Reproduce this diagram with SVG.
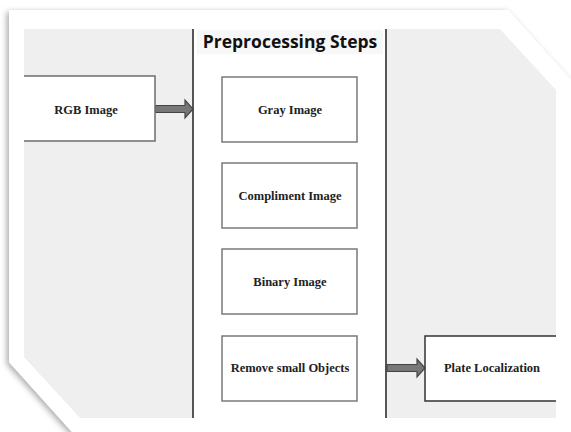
<svg xmlns="http://www.w3.org/2000/svg" width="571" height="432" viewBox="0 0 571 432">
<defs>
<filter id="sh" x="-10%" y="-10%" width="120%" height="120%">
<feDropShadow dx="-2" dy="2" stdDeviation="3" flood-color="#000" flood-opacity="0.35"/>
</filter>
<style>
.box{fill:#fff;stroke:#7a7a7a;stroke-width:1.5}
.lbl{font-family:"Liberation Serif","Times New Roman",serif;font-weight:bold;font-size:12.5px;fill:#222;text-anchor:middle}
.title{font-family:"Open Sans","Noto Sans",sans-serif;font-weight:bold;font-size:17.5px;fill:#111;text-anchor:middle}
.lane{stroke:#555;stroke-width:2}
.arr{fill:#777;stroke:#444;stroke-width:1.2}
</style>
</defs>
<rect width="571" height="432" fill="#fff"/>
<path d="M9,10 L508,10 L571,80 L571,432 L72,432 L9,362 Z" fill="#fff" filter="url(#sh)"/>
<path d="M24,29 L500,29 L556,90 L556,418 L80,418 L24,357 Z" fill="#efefef"/>
<rect x="194" y="29" width="192" height="389" fill="#fff"/>
<rect x="197" y="30" width="186" height="24" fill="#f7f7f7"/>
<text class="title" x="290" y="48">Preprocessing Steps</text>
<g id="connectors">
<line class="lane" x1="193" y1="29" x2="193" y2="418"/>
<line class="lane" x1="386" y1="29" x2="386" y2="418"/>
<path class="arr" d="M155,105.5 L185,105.5 L185,100 L193,109 L185,118 L185,112.5 L155,112.5 Z"/>
<path class="arr" d="M387,364.5 L417,364.5 L417,359 L425,368 L417,377 L417,371.5 L387,371.5 Z"/>
</g>
<g id="rgb">
<path d="M24,76 L155,76 L155,141 L24,141 Z" fill="#fff"/>
<path d="M24,76 L155,76 L155,141 L24,141" fill="none" stroke="#6e6e6e" stroke-width="1.5"/>
<text class="lbl" x="86" y="114">RGB Image</text>
</g>
<g id="gray">
<rect class="box" x="222" y="77" width="135" height="65"/>
<text class="lbl" x="290" y="114">Gray Image</text>
</g>
<g id="compliment">
<rect class="box" x="222" y="163" width="135" height="65"/>
<text class="lbl" x="290" y="200">Compliment Image</text>
</g>
<g id="binary">
<rect class="box" x="222" y="249" width="135" height="65"/>
<text class="lbl" x="290" y="286">Binary Image</text>
</g>
<g id="remove">
<rect class="box" x="222" y="336" width="135" height="65"/>
<text class="lbl" x="290" y="372">Remove small Objects</text>
</g>
<g id="plate">
<path d="M425,336 L556,336 L556,401 L425,401 Z" fill="#fff"/>
<path d="M556,336 L425,336 L425,401 L556,401" fill="none" stroke="#333" stroke-width="1.5"/>
<text class="lbl" x="492" y="372">Plate Localization</text>
</g>
</svg>
